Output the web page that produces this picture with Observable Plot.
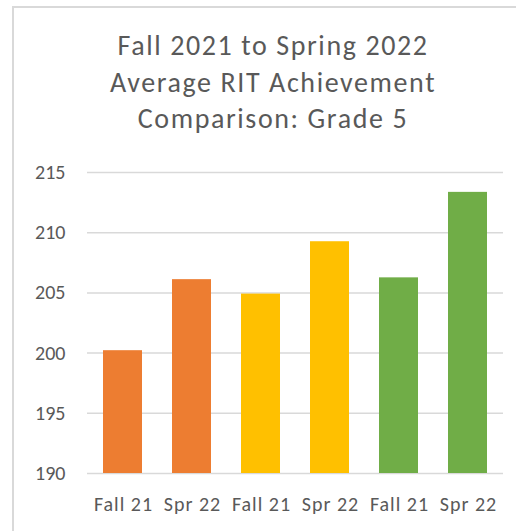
<!DOCTYPE html>
<html>
<head>
<meta charset="utf-8">
<script src="https://cdn.jsdelivr.net/npm/d3@7"></script>
<script src="https://cdn.jsdelivr.net/npm/@observablehq/plot@0.6"></script>
<style>
  html, body { margin: 0; padding: 0; background: #fff; }
  body { width: 516px; height: 531px; position: relative; overflow: hidden; font-family: Calibri, Carlito, Lato, sans-serif; }
  #frame { position: absolute; left: 12px; top: 6px; width: 600px; height: 600px;
           border-left: 2px solid #d9d9d9; border-top: 2px solid #d9d9d9; box-sizing: border-box; }
  #title { position: absolute; left: 73px; width: 400px; top: 28px; text-align: center;
           color: #595959; font-size: 28px; line-height: 36.5px; letter-spacing: 1.6px; }
  #chart { position: absolute; left: 0; top: 0; }
  .xaxis text { letter-spacing: 1px; }
</style>
</head>
<body>
<div id="frame"></div>
<div id="title">Fall 2021 to Spring 2022<br>Average RIT Achievement<br>Comparison: Grade 5</div>
<div id="chart"></div>
<script>
const periods = ["Fall 21", "Spr 22", "Fall 21", "Spr 22", "Fall 21", "Spr 22"];
const groups = ["A", "A", "B", "B", "C", "C"];
const values = [200.2, 206.1, 204.9, 209.25, 206.25, 213.35];
const groupColors = ["#ED7D31", "#FFC000", "#70AD47"];
const yTicks = [190, 195, 200, 205, 210, 215];

const data = values.map((v, i) => ({i, period: periods[i], group: groups[i], value: v}));

const chart = Plot.plot({
  width: 516,
  height: 531,
  marginLeft: 87,
  marginRight: 13,
  marginTop: 172,
  marginBottom: 58,
  style: {fontFamily: "Calibri, Carlito, Lato, sans-serif", fontSize: "20px", color: "#595959", background: "transparent"},
  x: {domain: d3.range(values.length), paddingInner: 0.43, paddingOuter: 0.215, label: null},
  y: {domain: [yTicks[0], yTicks[yTicks.length - 1]], label: null},
  color: {domain: ["A", "B", "C"], range: groupColors},
  marks: [
    Plot.gridY(yTicks, {stroke: "#d9d9d9", strokeOpacity: 1, strokeWidth: 1.5}),
    Plot.barY(data, {x: "i", y1: () => yTicks[0], y2: "value", fill: "group"}),
    Plot.axisY(yTicks, {tickSize: 0, tickPadding: 22, fill: "#595959", fontSize: 20}),
    Plot.axisX(d3.range(values.length), {tickSize: 0, tickPadding: 23, fill: "#595959", fontSize: 20, className: "xaxis", dx: 0.5, tickFormat: i => periods[i]})
  ]
});
document.getElementById("chart").appendChild(chart);
</script>
</body>
</html>
